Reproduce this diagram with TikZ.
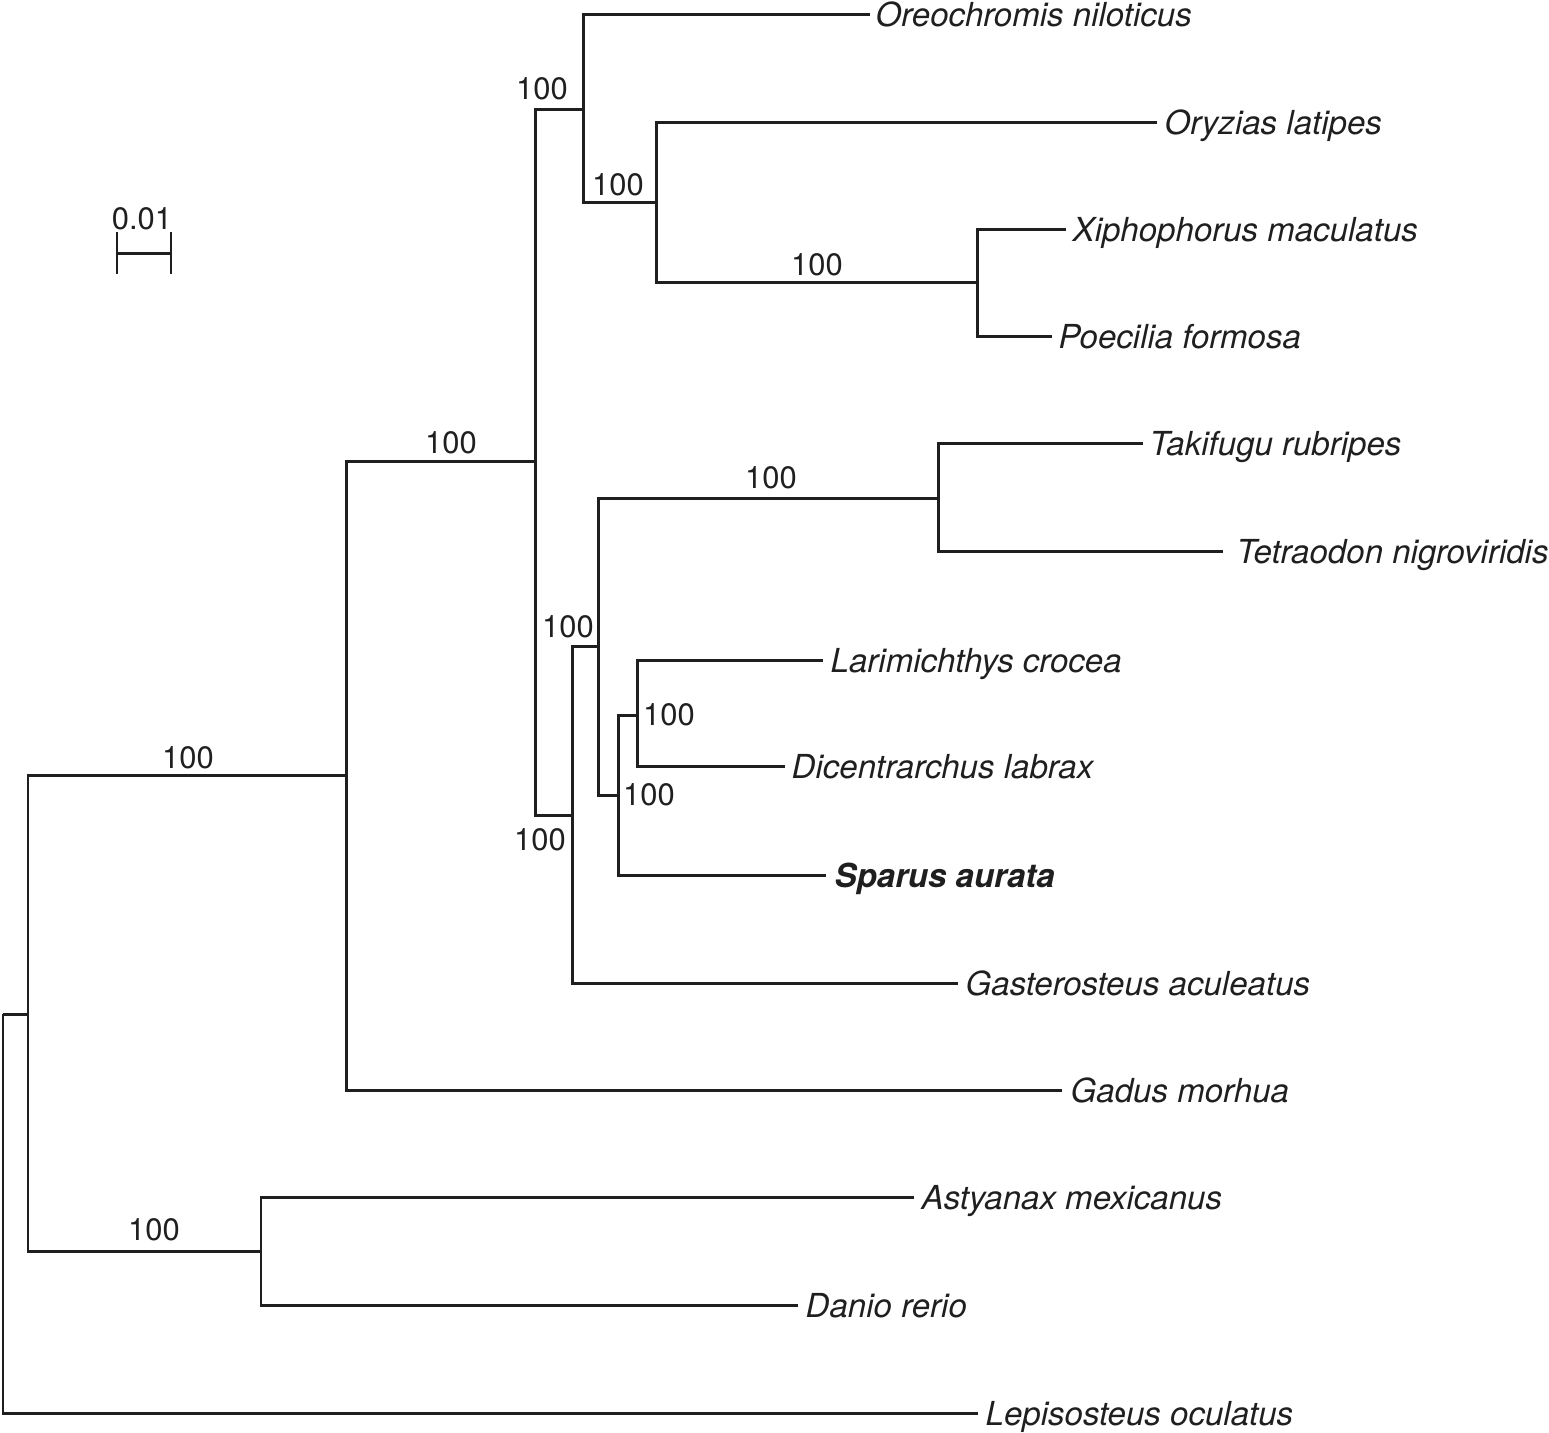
\documentclass[tikz,border=0pt]{standalone}
\usepackage{fontspec}
\setmainfont{TeX Gyre Heros}
\begin{document}
\begin{tikzpicture}[x=0.01cm,y=-0.01cm,
  br/.style={line width=0.85pt, line join=miter, color=black!88},
  leaf/.style={anchor=base west, inner sep=0pt, font=\fontsize{9.4pt}{11pt}\selectfont\itshape, text=black!88},
  bs/.style={anchor=base, inner sep=0pt, font=\fontsize{8.8pt}{10pt}\selectfont, text=black!88}]
\useasboundingbox (0,0) rectangle (1549,1432);
% internal nodes
\coordinate (R) at (3,1014);
\coordinate (A) at (28,1014);
\coordinate (B) at (346,775);
\coordinate (C) at (261,1251);
\coordinate (D) at (535,461);
\coordinate (E) at (583,109);
\coordinate (F) at (572,815);
\coordinate (G) at (656,202);
\coordinate (H) at (977,282);
\coordinate (I) at (598,646);
\coordinate (J) at (938,498);
\coordinate (K) at (618,795);
\coordinate (L) at (637,715);
% tips
\coordinate (tore) at (870,14);
\coordinate (tory) at (1157,122);
\coordinate (txip) at (1066,229);
\coordinate (tpoe) at (1052,336);
\coordinate (ttak) at (1143,443);
\coordinate (ttet) at (1223,551);
\coordinate (tlar) at (823,660);
\coordinate (tdic) at (785,766);
\coordinate (tspa) at (826,875);
\coordinate (tgas) at (958,983);
\coordinate (tgad) at (1062,1090);
\coordinate (tast) at (914,1197);
\coordinate (tdan) at (798,1305);
\coordinate (tlep) at (978,1413);
% branches
\draw[br] (R) |- (A);
\draw[br] (R) |- (tlep);
\draw[br] (A) |- (B);
\draw[br] (A) |- (C);
\draw[br] (B) |- (D);
\draw[br] (B) |- (tgad);
\draw[br] (D) |- (E);
\draw[br] (D) |- (F);
\draw[br] (E) |- (tore);
\draw[br] (E) |- (G);
\draw[br] (G) |- (tory);
\draw[br] (G) |- (H);
\draw[br] (H) |- (txip);
\draw[br] (H) |- (tpoe);
\draw[br] (F) |- (I);
\draw[br] (F) |- (tgas);
\draw[br] (I) |- (J);
\draw[br] (I) |- (K);
\draw[br] (J) |- (ttak);
\draw[br] (J) |- (ttet);
\draw[br] (K) |- (L);
\draw[br] (K) |- (tspa);
\draw[br] (L) |- (tlar);
\draw[br] (L) |- (tdic);
\draw[br] (C) |- (tast);
\draw[br] (C) |- (tdan);
% leaf labels
\node[leaf] (nore) at (875,26) {Oreochromis niloticus};
\node[leaf] (nory) at (1164,134) {Oryzias latipes};
\node[leaf] (nxip) at (1072,241) {Xiphophorus maculatus};
\node[leaf] (npoe) at (1058,348) {Poecilia formosa};
\node[leaf] (ntak) at (1149,455) {Takifugu rubripes};
\node[leaf] (ntet) at (1236,563) {Tetraodon nigroviridis};
\node[leaf] (nlar) at (830,672) {Larimichthys crocea};
\node[leaf] (ndic) at (791,778) {Dicentrarchus labrax};
\node[leaf, font=\fontsize{9.4pt}{11pt}\selectfont\bfseries\itshape] (nspa) at (834,887) {Sparus aurata};
\node[leaf] (ngas) at (965,995) {Gasterosteus aculeatus};
\node[leaf] (ngad) at (1070,1102) {Gadus morhua};
\node[leaf] (nast) at (921,1209) {Astyanax mexicanus};
\node[leaf] (ndan) at (805,1317) {Danio rerio};
\node[leaf] (nlep) at (985,1425) {Lepisosteus oculatus};
% bootstrap values
\node[bs] (bB) at (188,768) {100};
\node[bs] (bC) at (154,1240) {100};
\node[bs] (bD) at (451,453) {100};
\node[bs] (bE) at (542,99) {100};
\node[bs] (bG) at (618,195) {100};
\node[bs] (bH) at (817,275) {100};
\node[bs] (bF) at (540,850) {100};
\node[bs] (bI) at (568,637) {100};
\node[bs] (bJ) at (771,488) {100};
\node[bs] (bK) at (649,805) {100};
\node[bs] (bL) at (669,725) {100};
% scale bar
\coordinate (s1) at (117,253);
\coordinate (s2) at (171,253);
\draw[br] (s1) -- (s2);
\draw[br] ([yshift=-6]s1) -- ([yshift=6]s1);
\draw[br] ([yshift=-6]s2) -- ([yshift=6]s2);
\node[bs] (sl) at (142,229) {0.01};
\end{tikzpicture}
\end{document}
